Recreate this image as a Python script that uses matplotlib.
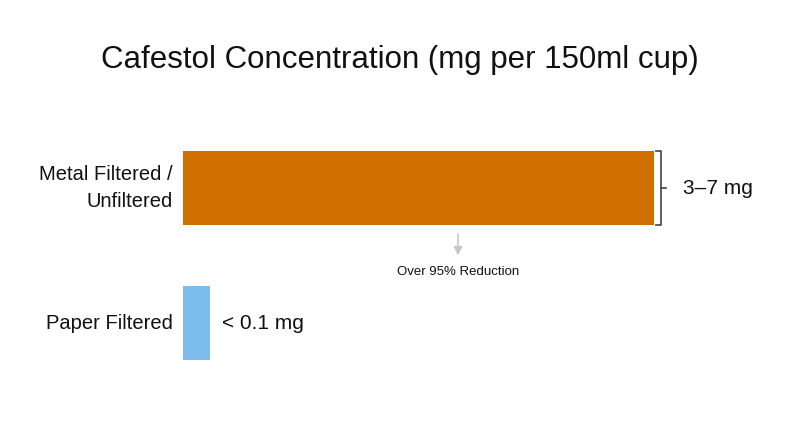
import matplotlib.pyplot as plt
from matplotlib.transforms import offset_copy

plt.rcParams['font.family'] = ['Liberation Sans', 'DejaVu Sans']

# data
categories = ["Metal Filtered /\nUnfiltered", "Paper Filtered"]
bar_lengths = [7.0, 0.4]          # drawn length (paper bar is shown at a minimum width)
value_labels = ["3\u20137 mg", "< 0.1 mg"]
colors = ["#D07000", "#7DBDEE"]
note = "Over 95% Reduction"

fig = plt.figure(figsize=(8, 4.47), dpi=100)
ax = fig.add_axes([0.22875, 0.105, 0.9 - 0.22875, 0.7315 - 0.105])

ypos = list(range(len(categories)))
ax.barh(ypos, bar_lengths, height=0.55, color=colors)

ax.set_xlim(0, (720 - 183) / 471 * 7)
ax.set_ylim(1.57, -0.504)
for s in ax.spines.values():
    s.set_visible(False)
ax.set_xticks([])
ax.set_yticks([])

# category labels
for y, lab in zip(ypos, categories):
    ax.annotate(lab, xy=(0, y), xytext=(-7.2, 0), textcoords="offset points",
                ha="right", va="center", fontsize=14.5, color="#111111",
                multialignment="right", linespacing=1.55)

# bracket next to the first bar
top, bot = ypos[0] - 0.275, ypos[0] + 0.275
bx = bar_lengths[0]
tr = offset_copy(ax.transData, fig=fig, x=7, y=0, units="dots")
ax.plot([bx - 0.07, bx, bx, bx - 0.07], [top, top, bot, bot],
        color="#444444", lw=1.2, transform=tr, clip_on=False)
ax.plot([bx, bx + 0.08], [ypos[0], ypos[0]], color="#444444", lw=1.2,
        transform=tr, clip_on=False)
ax.annotate(value_labels[0], xy=(bx, ypos[0]), xytext=(21, 0),
            textcoords="offset points", ha="left", va="center",
            fontsize=15, color="#111111")

# value label for paper bar
ax.annotate(value_labels[1], xy=(bar_lengths[1], ypos[1]), xytext=(9, 0),
            textcoords="offset points", ha="left", va="center",
            fontsize=15, color="#111111")

# reduction arrow
ax_x = (458 - 183) / 471 * 7
ax.annotate("", xy=(ax_x, 0.52), xytext=(ax_x, 0.32),
            arrowprops=dict(arrowstyle="-|>,head_length=0.5,head_width=0.25",
                            color="#C8C8C8", lw=1.2))
ax.text(ax_x, 0.62, note, ha="center", va="center", fontsize=9.5, color="#111111")

fig.suptitle("Cafestol Concentration (mg per 150ml cup)", x=0.5, y=0.9,
             fontsize=22.5, color="#111111")

fig.savefig("out.png", dpi=100)
